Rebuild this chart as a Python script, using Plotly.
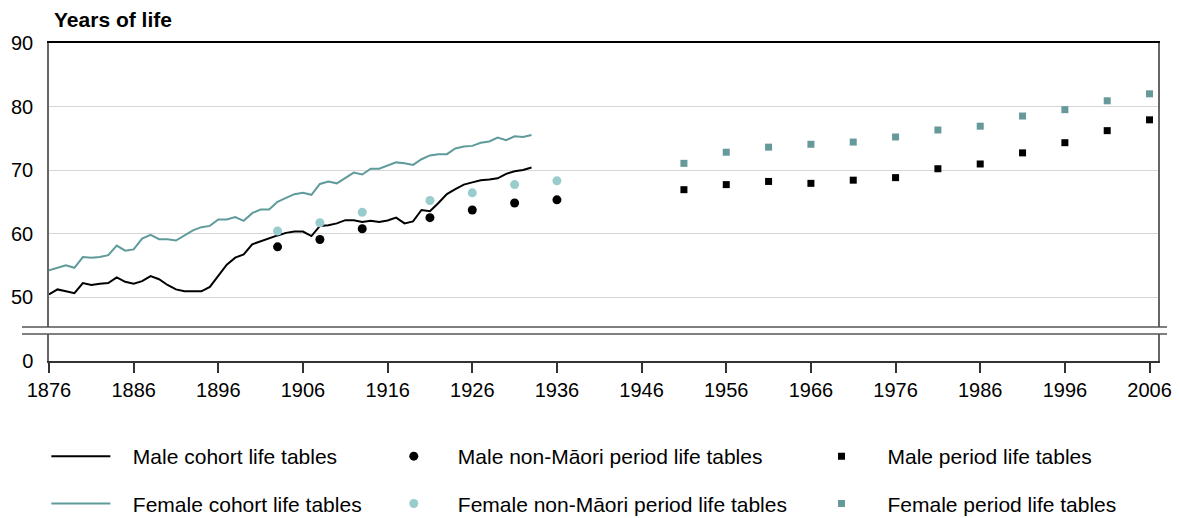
import plotly.graph_objects as go

# ---------------- data ----------------
cohort_years = list(range(1876, 1934))
male_cohort = [50.4, 51.2, 50.9, 50.6, 52.2, 51.9, 52.1, 52.2, 53.1, 52.4,
               52.1, 52.5, 53.3, 52.8, 51.9, 51.2, 50.9, 50.9, 50.9, 51.6,
               53.3, 55.1, 56.2, 56.7, 58.3, 58.8, 59.2, 59.7, 60.1, 60.3,
               60.3, 59.6, 61.2, 61.3, 61.6, 62.1, 62.1, 61.8, 62.0, 61.8,
               62.05, 62.5, 61.6, 61.9, 63.7, 63.5, 64.8, 66.2, 67.0, 67.7,
               68.05, 68.4, 68.5, 68.7, 69.4, 69.8, 70.0, 70.4]
female_cohort = [54.2, 54.6, 55.0, 54.6, 56.3, 56.2, 56.3, 56.6, 58.1, 57.3,
                 57.5, 59.2, 59.8, 59.1, 59.1, 58.9, 59.7, 60.5, 61.0, 61.2,
                 62.2, 62.2, 62.6, 62.0, 63.2, 63.8, 63.8, 65.0, 65.6, 66.2,
                 66.4, 66.1, 67.8, 68.2, 67.9, 68.7, 69.6, 69.3, 70.2, 70.2,
                 70.7, 71.2, 71.05, 70.8, 71.7, 72.3, 72.5, 72.5, 73.4, 73.7,
                 73.8, 74.3, 74.5, 75.1, 74.7, 75.3, 75.2, 75.5]

nonmaori_years = [1903, 1908, 1913, 1921, 1926, 1931, 1936]
male_nonmaori = [57.9, 59.05, 60.75, 62.5, 63.7, 64.8, 65.3]
female_nonmaori = [60.4, 61.7, 63.35, 65.2, 66.4, 67.7, 68.3]

period_years = [1951, 1956, 1961, 1966, 1971, 1976, 1981, 1986, 1991, 1996, 2001, 2006]
male_period = [66.9, 67.7, 68.2, 67.9, 68.4, 68.8, 70.2, 70.95, 72.7, 74.3, 76.2, 77.9]
female_period = [71.05, 72.8, 73.6, 74.05, 74.4, 75.2, 76.3, 76.9, 78.5, 79.5, 80.9, 82.0]

x_ticks = list(range(1876, 2007, 10))
y_ticks_top = [50, 60, 70, 80, 90]
y_ticks_bottom = [0]

# ---------------- style ----------------
FONT = "Liberation Sans, Arial, sans-serif"
BLACK = "#000000"
TEAL = "#5f9b9b"
TEAL_SQ = "#669999"
LIGHT_TEAL = "#99cccc"
PAD = "\u00a0\u00a0\u00a0"

# the page body adds an 8px offset; the figure is sized to fit the window
OFF = 8
W, H = 1180 - OFF, 518 - OFF
PX_L, PX_R, PX_T, PX_B = 49, 1158, 43, 361        # plot edges in window pixels
L, R, T, B = PX_L - OFF, W - (PX_R - OFF), PX_T - OFF, H - (PX_B - OFF)
plot_w = W - L - R
plot_h = H - T - B
top_dom_bottom = (PX_B - 327) / plot_h
bot_dom_top = (PX_B - 334) / plot_h

fig = go.Figure()

fig.add_trace(go.Scatter(x=cohort_years, y=male_cohort, mode="lines",
                         name=PAD + "Male cohort life tables",
                         line=dict(color=BLACK, width=2),
                         xaxis="x2", yaxis="y2", legend="legend", legendgroup="a1"))
fig.add_trace(go.Scatter(x=cohort_years, y=female_cohort, mode="lines",
                         name=PAD + "Female cohort life tables",
                         line=dict(color=TEAL, width=2),
                         xaxis="x2", yaxis="y2", legend="legend", legendgroup="a2"))
fig.add_trace(go.Scatter(x=nonmaori_years, y=male_nonmaori, mode="markers",
                         name="Male non-Māori period life tables",
                         marker=dict(color=BLACK, size=9, symbol="circle"),
                         xaxis="x2", yaxis="y2", legend="legend2", legendgroup="b1"))
fig.add_trace(go.Scatter(x=nonmaori_years, y=female_nonmaori, mode="markers",
                         name="Female non-Māori period life tables",
                         marker=dict(color=LIGHT_TEAL, size=9, symbol="circle"),
                         xaxis="x2", yaxis="y2", legend="legend2", legendgroup="b2"))
fig.add_trace(go.Scatter(x=period_years, y=male_period, mode="markers",
                         name="Male period life tables",
                         marker=dict(color=BLACK, size=7, symbol="square"),
                         xaxis="x2", yaxis="y2", legend="legend3", legendgroup="c1"))
fig.add_trace(go.Scatter(x=period_years, y=female_period, mode="markers",
                         name="Female period life tables",
                         marker=dict(color=TEAL_SQ, size=7, symbol="square"),
                         xaxis="x2", yaxis="y2", legend="legend3", legendgroup="c2"))
# invisible trace so the lower (0) panel of the broken axis is drawn
fig.add_trace(go.Scatter(x=cohort_years, y=male_cohort, mode="lines",
                         line=dict(width=0, color="rgba(0,0,0,0)"),
                         showlegend=False, hoverinfo="skip",
                         xaxis="x", yaxis="y"))

def legend_cfg(px_x, itemwidth):
    return dict(
        orientation="v", xref="container", yref="container",
        yanchor="top", xanchor="left", x=(px_x - OFF) / W, y=1 - (436.0 - OFF) / H,
        font=dict(family=FONT, size=21, color="#000"),
        tracegroupgap=17, itemwidth=itemwidth, bgcolor="rgba(0,0,0,0)",
        traceorder="grouped", itemsizing="trace",
    )

fig.update_layout(
    width=W, height=H,
    margin=dict(l=L, r=R, t=T, b=B, autoexpand=False),
    paper_bgcolor="white", plot_bgcolor="white",
    font=dict(family=FONT, size=20, color="#000"),
    showlegend=True,
    xaxis=dict(domain=[0, 1], anchor="y", range=[1876, 2007],
               tickvals=x_ticks, ticks="outside", ticklen=10, tickwidth=1.5,
               tickcolor="#333", showline=True, linecolor="#333", linewidth=1.5,
               showgrid=False, zeroline=False, tickfont=dict(size=20)),
    yaxis=dict(domain=[0, bot_dom_top], anchor="x", range=[0, 4.25],
               tickvals=y_ticks_bottom, ticks="", showgrid=False, zeroline=False,
               showline=True, mirror=True, linecolor="#666", linewidth=1.5,
               ticklabelstandoff=10, tickfont=dict(size=20)),
    xaxis2=dict(domain=[0, 1], anchor="y2", matches="x", side="top",
                showticklabels=False, ticks="", showgrid=False, zeroline=False,
                showline=True, linecolor="#000", linewidth=1.5),
    yaxis2=dict(domain=[top_dom_bottom, 1], anchor="x2", range=[45.28, 90],
                tickvals=y_ticks_top, ticks="", showgrid=True, gridcolor="#d6d6d6",
                gridwidth=1, zeroline=False, showline=True, mirror=True,
                linecolor="#666", linewidth=1.5, ticklabelstandoff=10,
                tickfont=dict(size=20)),
    legend=legend_cfg(46.35, 59),
    legend2=legend_cfg(369.8, 78),
    legend3=legend_cfg(795.5, 82),
)

# axis break marks
for py in (327, 334):
    fig.add_shape(type="line", xref="paper", yref="paper",
                  x0=(22 - PX_L) / plot_w, x1=(1167 - PX_L) / plot_w,
                  y0=(PX_B - py) / plot_h, y1=(PX_B - py) / plot_h,
                  line=dict(color="#555", width=1.5))

fig.add_annotation(text="<b>Years of life</b>", xref="paper", yref="paper",
                   x=(52 - PX_L) / plot_w, y=(PX_B - 19) / plot_h,
                   xanchor="left", yanchor="middle", showarrow=False,
                   font=dict(family=FONT, size=21, color="#000"))

fig.write_html("out.html")
